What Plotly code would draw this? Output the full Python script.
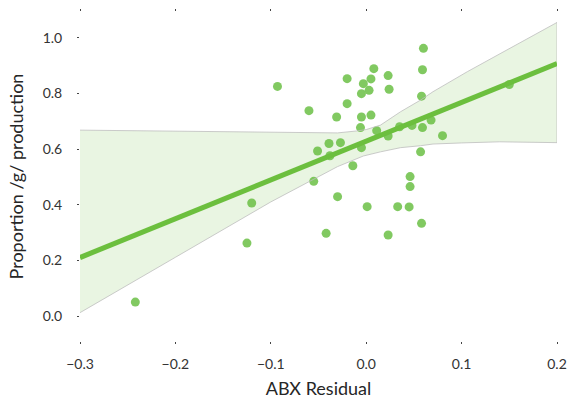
import plotly.graph_objects as go

# Scatter data (ABX residual vs proportion)
abx_residual = [-0.242, -0.125, -0.120, -0.093, -0.060, -0.020, 0.008, 0.005, -0.003, 0.023,
                0.003, -0.005, 0.024, -0.020, -0.031, -0.005, 0.005, -0.006, 0.011, 0.023,
                0.035, 0.048, 0.059, 0.068, 0.080, 0.058, 0.059, 0.060, 0.057, 0.150,
                -0.039, -0.027, -0.051, -0.038, -0.005, -0.014, -0.055, -0.030, 0.046, 0.046,
                0.001, 0.033, 0.045, 0.058, -0.042, 0.023]
proportion = [0.050, 0.262, 0.406, 0.825, 0.738, 0.853, 0.889, 0.852, 0.835, 0.864,
              0.811, 0.799, 0.815, 0.763, 0.715, 0.715, 0.722, 0.677, 0.666, 0.647,
              0.680, 0.685, 0.677, 0.704, 0.648, 0.790, 0.885, 0.962, 0.590, 0.832,
              0.620, 0.623, 0.593, 0.576, 0.605, 0.540, 0.484, 0.429, 0.501, 0.465,
              0.393, 0.393, 0.392, 0.333, 0.297, 0.291]

# Regression line
fit_x = [-0.3, 0.2]
fit_y = [0.21, 0.907]

# Confidence band edges
ci_upper_x = [-0.3, -0.2, -0.1, -0.05, -0.03, -0.01, 0.0, 0.015, 0.036, 0.057, 0.07, 0.106, 0.141, 0.2]
ci_upper_y = [0.668, 0.664, 0.661, 0.659, 0.658, 0.665, 0.670, 0.686, 0.734, 0.776, 0.806, 0.878, 0.944, 1.055]
ci_lower_x = [-0.3, -0.2, -0.1, -0.066, -0.03, -0.003, 0.015, 0.036, 0.057, 0.07, 0.1, 0.14, 0.2]
ci_lower_y = [0.012, 0.211, 0.41, 0.471, 0.537, 0.575, 0.590, 0.605, 0.612, 0.618, 0.622, 0.626, 0.623]

x_ticks = [-0.3, -0.2, -0.1, 0.0, 0.1, 0.2]
x_ticklabels = ["−0.3", "−0.2", "−0.1", "0.0", "0.1", "0.2"]
y_ticks = [0.0, 0.2, 0.4, 0.6, 0.8, 1.0]
y_ticklabels = ["0.0", "0.2", "0.4", "0.6", "0.8", "1.0"]

GREEN = "#6cbf3e"
FONT = "Lato"

fig = go.Figure()

fig.add_trace(go.Scatter(
    x=abx_residual, y=proportion, mode="markers",
    marker=dict(size=9, color="rgba(122,198,88,0.95)", line=dict(width=0)),
    showlegend=False, hoverinfo="skip"))

band_x = ci_upper_x + ci_lower_x[::-1]
band_y = ci_upper_y + ci_lower_y[::-1]
fig.add_trace(go.Scatter(
    x=band_x, y=band_y, mode="lines", fill="toself",
    fillcolor="rgba(108,190,62,0.15)",
    line=dict(color="rgba(190,190,190,0.8)", width=1),
    showlegend=False, hoverinfo="skip"))

fig.add_trace(go.Scatter(
    x=fit_x, y=fit_y, mode="lines",
    line=dict(color=GREEN, width=5),
    showlegend=False, hoverinfo="skip"))

fig.update_layout(
    width=569, height=399,
    margin=dict(l=80, r=12, t=12, b=58, autoexpand=False),
    paper_bgcolor="white", plot_bgcolor="white",
    font=dict(family=FONT, color="#333333"),
)

fig.update_xaxes(
    range=[-0.3, 0.2], tickvals=x_ticks, ticktext=x_ticklabels,
    showgrid=False, zeroline=False, showline=False, automargin=False,
    ticks="outside", ticklen=2, tickwidth=1, tickcolor="#444444", mirror="ticks",
    tickfont=dict(family=FONT, size=14, color="#333333"),
    ticklabelstandoff=8,
    title=dict(text="ABX Residual", font=dict(family=FONT, size=18, color="#262626"), standoff=14),
)
fig.update_yaxes(
    range=[-0.0898, 1.0925], tickvals=y_ticks, ticktext=y_ticklabels,
    showgrid=False, zeroline=False, showline=False, automargin=False,
    ticks="outside", ticklen=2, tickwidth=1, tickcolor="#444444",
    tickfont=dict(family=FONT, size=14, color="#333333"),
    ticklabelstandoff=12,
    title=dict(text="Proportion /g/ production", font=dict(family=FONT, size=18, color="#262626"), standoff=14),
)

# remove the default page margin so the 569x399 figure fills the window exactly
fig.write_html("out.html",
               config={"displayModeBar": False},
               post_script="document.body.style.margin='0';document.body.style.overflow='hidden';")
